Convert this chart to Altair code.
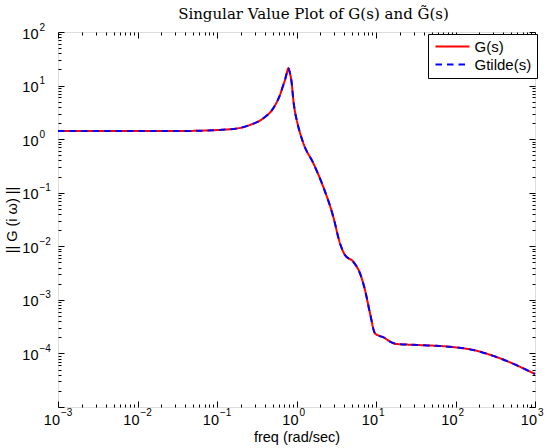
import altair as alt
import pandas as pd

# ---- data ----
freq = [0.001, 0.0034, 0.0343, 0.146, 0.26, 0.382, 0.51, 0.619, 0.683, 0.716,
        0.753, 0.789, 0.828, 0.871, 0.912, 0.957, 1.006, 1.22, 1.63, 2.17,
        2.90, 3.52, 4.07, 5.18, 6.29, 7.27, 8.41, 9.71, 11.2, 12.4,
        15.0, 18.2, 32.5, 85.3, 167, 363, 1000]
mag = [1.42, 1.42, 1.42, 1.53, 1.84, 2.45, 3.77, 6.67, 10.3, 12.7,
       16.9, 21.0, 16.9, 11.0, 5.38, 3.25, 2.28, 0.836, 0.354, 0.129,
       0.0357, 0.0114, 0.00687, 0.00515, 0.00313, 0.00153, 0.000561, 0.000238, 0.000211, 0.0002,
       0.000166, 0.00015, 0.000144, 0.000133, 0.000116, 8.1e-5, 4.13e-5]
series_names = ["G(s)", "Gtilde(s)"]
series_colors = ["#ff0000", "#0000ff"]
series_dash = [[1, 0], [6.5, 5]]

x_decades = [1e-3, 1e-2, 1e-1, 1, 10, 100, 1000]
y_decades = [1e-5, 1e-4, 1e-3, 1e-2, 1e-1, 1, 10, 100]
y_label_decades = [1e-4, 1e-3, 1e-2, 1e-1, 1, 10, 100]
x_minor = [k * d for d in x_decades[:-1] for k in range(2, 10)]
y_minor = [k * d for d in y_decades[:-1] for k in range(2, 10)]

title_text = "Singular Value Plot of G(s) and G\u0303(s)"
x_title = "freq (rad/sec)"
y_title = "|| G (i \u03c9) ||"

rows = [{"freq": f, "mag": m, "series": s}
        for s in series_names for f, m in zip(freq, mag)]
df = pd.DataFrame(rows)

W, H = 477, 375
FONT = "Liberation Sans"
FS = 14.5
xs = alt.Scale(type="log", domain=[1e-3, 1e3], nice=False)
ys = alt.Scale(type="log", domain=[1e-5, 1e2], nice=False)
exp_expr = "format(log(datum.value)/LN10, '.0f')"


def tick_axis(orient, values, size, offset):
    return alt.Axis(orient=orient, values=values, tickSize=size, labels=False,
                    domain=False, title=None, offset=offset, ticks=True,
                    grid=False, tickColor="black", tickWidth=1)


x_base = alt.Axis(orient="bottom", values=x_decades, labelExpr="'10'", tickSize=0,
                  ticks=False, labelPadding=6, labelAlign="right", labelOffset=1.5,
                  labelBaseline="top", labelFontSize=FS, labelFont=FONT, domain=False,
                  labelFlush=False, labelOverlap=False, grid=False,
                  title=x_title, titleFontSize=FS, titleFont=FONT, titleFontWeight="normal",
                  titleY=30, titleBaseline="middle")
x_exp = alt.Axis(orient="bottom", values=x_decades, labelExpr=exp_expr, tickSize=0,
                 ticks=False, labelPadding=0, labelAlign="left", labelOffset=2.5,
                 labelBaseline="top", labelFontSize=10, labelFont=FONT, domain=False,
                 labelFlush=False, labelOverlap=False, grid=False, title=None)
y_base = alt.Axis(orient="left", values=y_label_decades, labelExpr="'10'", tickSize=0,
                  ticks=False, labelPadding=20, labelAlign="right", labelBaseline="middle",
                  labelOffset=2, labelFontSize=FS, labelFont=FONT, domain=False,
                  labelFlush=False, labelOverlap=False, grid=False,
                  title=y_title, titleFontSize=FS, titleFont=FONT, titleFontWeight="normal",
                  titleX=-46, titleY=H / 2, titleAngle=270, titleAlign="center",
                  titleBaseline="middle")
y_exp = alt.Axis(orient="left", values=y_label_decades, labelExpr=exp_expr, tickSize=0,
                 ticks=False, labelPadding=19, labelAlign="left", labelBaseline="middle",
                 labelOffset=-5, labelFontSize=10, labelFont=FONT, domain=False,
                 labelFlush=False, labelOverlap=False, grid=False, title=None)

legend = alt.Legend(title=None, orient="none", legendX=370, legendY=2,
                    strokeColor="black", fillColor="white", padding=5,
                    symbolType="M-1,0H5.8", symbolSize=100, symbolStrokeWidth=2,
                    labelFontSize=15, labelFont=FONT, labelOffset=26.5, rowPadding=2)

base = alt.Chart(df)

lines = base.mark_line(strokeWidth=2, interpolate="monotone").encode(
    x=alt.X("freq:Q", scale=xs, axis=x_base),
    y=alt.Y("mag:Q", scale=ys, axis=y_base),
    color=alt.Color("series:N", scale=alt.Scale(domain=series_names, range=series_colors),
                    legend=legend),
    strokeDash=alt.StrokeDash("series:N", scale=alt.Scale(domain=series_names, range=series_dash),
                              legend=legend),
)


def ghost(xa, ya):
    return base.mark_point(opacity=0).encode(
        x=alt.X("freq:Q", scale=xs, axis=xa),
        y=alt.Y("mag:Q", scale=ys, axis=ya),
    )


layers = [
    lines,
    ghost(x_exp, y_exp),
    ghost(tick_axis("top", x_decades, 6, -H), tick_axis("right", y_decades, 6, -W)),
    ghost(tick_axis("top", x_minor, 3, -H), tick_axis("right", y_minor, 3, -W)),
    ghost(tick_axis("bottom", x_decades, 6, -H), tick_axis("left", y_decades, 6, -W)),
    ghost(tick_axis("bottom", x_minor, 3, -H), tick_axis("left", y_minor, 3, -W)),
]

chart = alt.layer(*layers).resolve_axis(x="independent", y="independent").properties(
    width=W, height=H,
    autosize=alt.AutoSizeParams(type="none"),
    padding={"left": 58, "top": 32, "right": 12, "bottom": 41},
    title=alt.TitleParams(text=title_text, font="DejaVu Serif", fontSize=15,
                          fontWeight="normal", anchor="middle", dx=17, dy=16, offset=4,
                          baseline="alphabetic", frame="group", color="black"),
).configure_view(stroke="black", strokeWidth=1).configure_legend(
    strokeWidth=1.5
).configure(background="white")

chart.save("out.html", embed_options={"renderer": "svg", "actions": False})
